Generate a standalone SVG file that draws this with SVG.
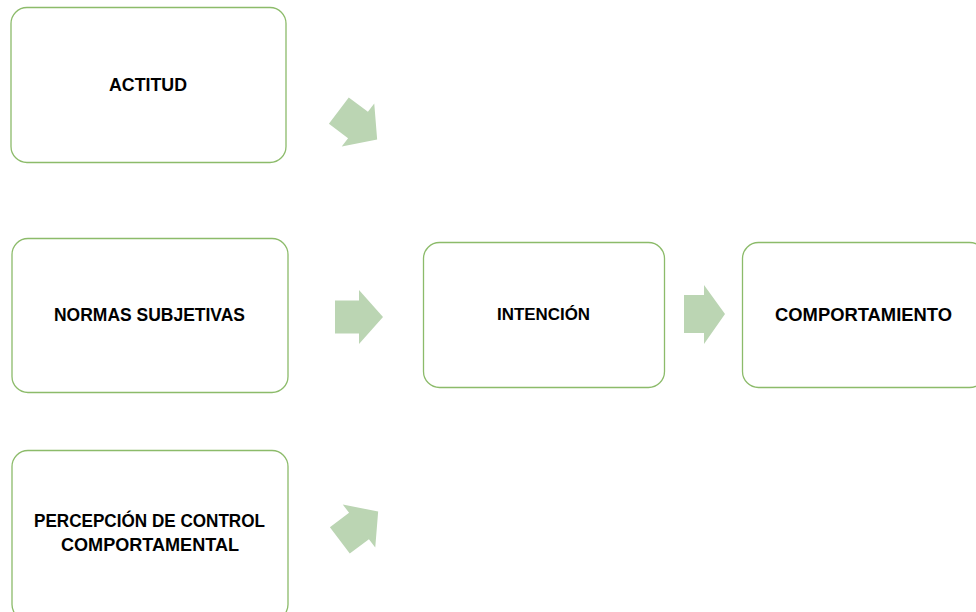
<svg xmlns="http://www.w3.org/2000/svg" width="976" height="612" viewBox="0 0 976 612">
  <style>
    .box { fill: #ffffff; stroke: #8cbb6a; stroke-width: 1.3; }
    .lbl { font-family: "Liberation Sans", Arial, sans-serif; font-weight: bold; font-size: 18.5px; fill: #000000; text-anchor: middle; }
    .sm { font-size: 16.5px; }
    .arrow { fill: #bbd5b3; stroke: none; }
  </style>
  <defs>
    <!-- block arrow pointing right, centred on the origin -->
    <polygon id="blockArrow" points="-24,-16.5 0,-16.5 0,-27 24,0 0,27 0,16.5 -24,16.5"/>
  </defs>
  <rect width="976" height="612" fill="#ffffff"/>

  <g id="node-actitud">
    <rect class="box" x="11" y="7.5" width="275" height="155" rx="16"/>
    <text class="lbl" x="148" y="90.5" textLength="78" lengthAdjust="spacingAndGlyphs">ACTITUD</text>
  </g>

  <g id="node-normas">
    <rect class="box" x="12" y="238.5" width="276" height="154" rx="16"/>
    <text class="lbl" x="149.5" y="320.5" textLength="191" lengthAdjust="spacingAndGlyphs">NORMAS SUBJETIVAS</text>
  </g>

  <g id="node-percepcion">
    <rect class="box" x="12" y="450.5" width="276" height="170" rx="16"/>
    <text class="lbl" x="149.5" y="526.5" textLength="231" lengthAdjust="spacingAndGlyphs">PERCEPCIÓN DE CONTROL</text>
    <text class="lbl" x="150" y="550.5" textLength="178" lengthAdjust="spacingAndGlyphs">COMPORTAMENTAL</text>
  </g>

  <g id="node-intencion">
    <rect class="box" x="423.5" y="242.5" width="241" height="145" rx="16"/>
    <text class="lbl sm" x="543.5" y="319.5" textLength="93" lengthAdjust="spacingAndGlyphs">INTENCIÓN</text>
  </g>

  <g id="node-comportamiento">
    <rect class="box" x="742.5" y="242.5" width="243" height="145" rx="16"/>
    <text class="lbl" x="863.5" y="320.5" textLength="177" lengthAdjust="spacingAndGlyphs">COMPORTAMIENTO</text>
  </g>

  <g id="connectors">
    <use class="arrow" href="#blockArrow" transform="translate(358,125) rotate(37)"/>
    <use class="arrow" href="#blockArrow" transform="translate(359,317)"/>
    <use class="arrow" href="#blockArrow" transform="translate(359,526) rotate(-37)"/>
    <polygon class="arrow" points="684,295 704,295 704,285 725,314 704,344 704,333 684,333"/>
  </g>
</svg>
